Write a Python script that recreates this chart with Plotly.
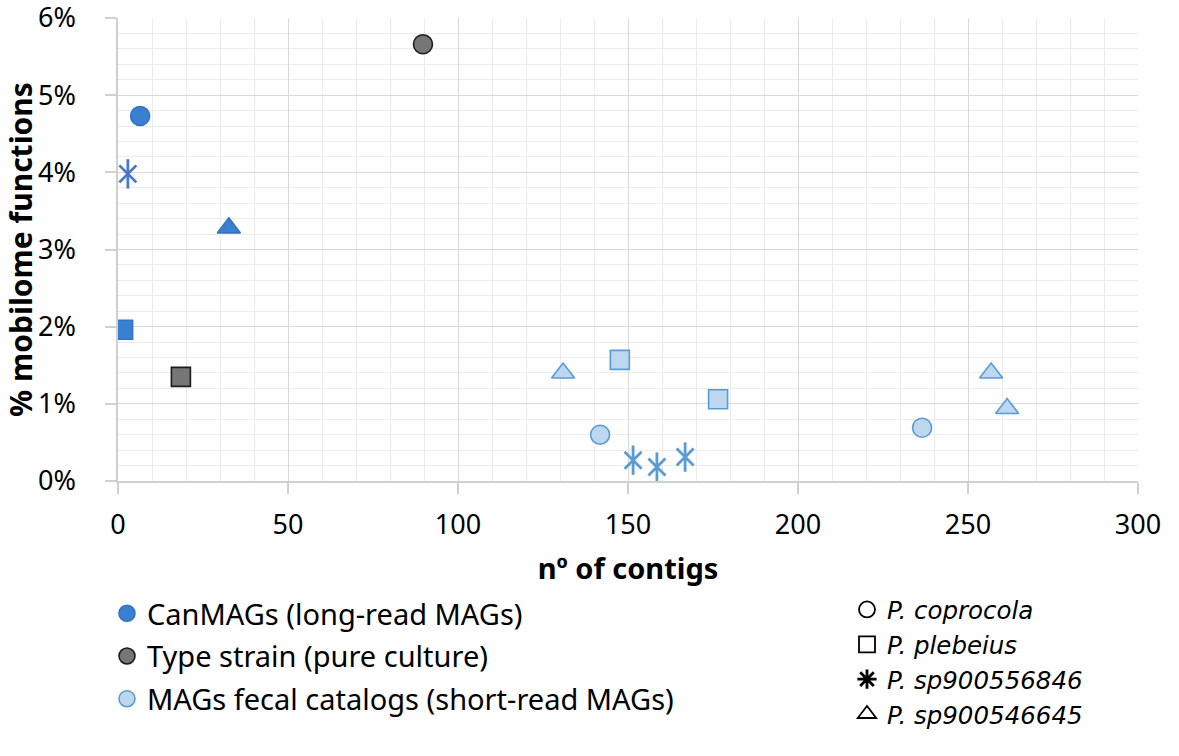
import plotly.graph_objects as go

# ---- data ----
groups = ["CanMAGs (long-read MAGs)", "Type strain (pure culture)", "MAGs fecal catalogs (short-read MAGs)"]
species = ["P. coprocola", "P. plebeius", "P. sp900556846", "P. sp900546645"]

can_x = [6.5, 1.5, 2.9, 32.6]
can_y = [4.73, 1.96, 3.98, 3.28]
can_sp = ["P. coprocola", "P. plebeius", "P. sp900556846", "P. sp900546645"]

type_x = [89.7, 18.5]
type_y = [5.66, 1.35]
type_sp = ["P. coprocola", "P. plebeius"]

fec_x = [141.8, 236.5, 147.6, 176.5, 151.5, 158.5, 166.8, 130.9, 256.8, 261.5]
fec_y = [0.60, 0.69, 1.57, 1.06, 0.27, 0.18, 0.31, 1.40, 1.40, 0.94]
fec_sp = ["P. coprocola", "P. coprocola", "P. plebeius", "P. plebeius",
          "P. sp900556846", "P. sp900556846", "P. sp900556846",
          "P. sp900546645", "P. sp900546645", "P. sp900546645"]

x_ticks = [0, 50, 100, 150, 200, 250, 300]
y_ticks = [0, 1, 2, 3, 4, 5, 6]
y_labels = ["0%", "1%", "2%", "3%", "4%", "5%", "6%"]

# ---- styles ----
FONT = "Noto Sans"
sym_map = {"P. coprocola": "circle", "P. plebeius": "square", "P. sp900546645": "triangle-up"}
styles = {
    groups[0]: dict(fill="#3a80d2", line="#3572c0", star="#4a78c8"),
    groups[1]: dict(fill="#767676", line="#1c1c1c", star="#333333"),
    groups[2]: dict(fill="#bdd7ee", line="#5b9bd5", star="#5b9bd5"),
}
sizes = {"circle": 19, "square": 19, "triangle-up": 20}

fig = go.Figure()

def add_group(name, xs, ys, sps):
    st = styles[name]
    for sp in species:
        px = [x for x, s in zip(xs, sps) if s == sp]
        py = [y for y, s in zip(ys, sps) if s == sp]
        if not px:
            continue
        if sp == "P. sp900556846":
            for sym, sz in (("x-thin-open", 17), ("line-ns-open", 21)):
                fig.add_trace(go.Scatter(
                    x=px, y=py, mode="markers", showlegend=False, hoverinfo="skip",
                    marker=dict(symbol=sym, size=sz, color=st["star"],
                                line=dict(color=st["star"], width=2.8))))
        else:
            sym = sym_map[sp]
            fig.add_trace(go.Scatter(
                x=px, y=py, mode="markers", showlegend=False, hoverinfo="skip",
                marker=dict(symbol=sym, size=sizes[sym], color=st["fill"],
                            line=dict(color=st["line"], width=1.6))))

add_group(groups[0], can_x, can_y, can_sp)
add_group(groups[1], type_x, type_y, type_sp)
add_group(groups[2], fec_x, fec_y, fec_sp)

# legend 1: groups
for i, g in enumerate(groups):
    st = styles[g]
    fig.add_trace(go.Scatter(
        x=[None], y=[None], mode="markers", name=g, legend="legend",
        legendgroup="g%d" % i,
        marker=dict(symbol="circle", size=17, color=st["fill"],
                    line=dict(color=st["line"], width=1.6))))

# legend 2: species
leg_sym = {"P. coprocola": "circle-open", "P. plebeius": "square-open",
           "P. sp900556846": "asterisk-open", "P. sp900546645": "triangle-up-open"}
for i, sp in enumerate(species):
    fig.add_trace(go.Scatter(
        x=[None], y=[None], mode="markers", name="<i>%s</i>" % sp, legend="legend2",
        marker=dict(symbol=leg_sym[sp], size=16, color="#000000",
                    line=dict(color="#000000", width=1.8 if sp != "P. sp900556846" else 2.8))))

axis_common = dict(
    showline=True, linecolor="#d0d0d0", linewidth=1.5,
    ticks="outside", ticklen=11, tickcolor="#d0d0d0", tickwidth=1.5,
    gridcolor="#d9d9d9", gridwidth=1.3, zeroline=False, automargin=False,
    ticklabeloverflow="allow",
    tickfont=dict(family=FONT, size=27, color="#000000"),
)

fig.update_layout(
    width=1179, height=756,
    paper_bgcolor="white", plot_bgcolor="white",
    margin=dict(l=118, r=41, t=18, b=275, autoexpand=False),
    font=dict(family=FONT, color="#000000"),
    xaxis=dict(range=[0, 300], tickvals=x_ticks, ticktext=[str(v) for v in x_ticks],
               ticklabelstandoff=8,
               minor=dict(dtick=10, showgrid=True, gridcolor="#ececec", gridwidth=1.2, ticks=""),
               title=dict(text="<b>nº of contigs</b>", font=dict(family=FONT, size=29), standoff=18),
               **axis_common),
    yaxis=dict(range=[0, 6], tickvals=y_ticks, ticktext=y_labels,
               ticklabelstandoff=24,
               minor=dict(dtick=0.2, showgrid=True, gridcolor="#ececec", gridwidth=1.2, ticks=""),
               title=dict(text="<b>% mobilome functions</b>", font=dict(family=FONT, size=30), standoff=10),
               **axis_common),
    legend=dict(x=-0.0108, xanchor="left", y=-0.231, yanchor="top",
                font=dict(family=FONT, size=29), tracegroupgap=2,
                bgcolor="rgba(0,0,0,0)", itemsizing="trace"),
    legend2=dict(x=0.7147, xanchor="left", y=-0.229, yanchor="top",
                 font=dict(family="DejaVu Sans", size=24.5), tracegroupgap=0,
                 bgcolor="rgba(0,0,0,0)", itemsizing="trace"),
    hovermode=False,
)

fig.write_html("out.html", post_script="document.body.style.margin='0';",
               config={"displayModeBar": False})
